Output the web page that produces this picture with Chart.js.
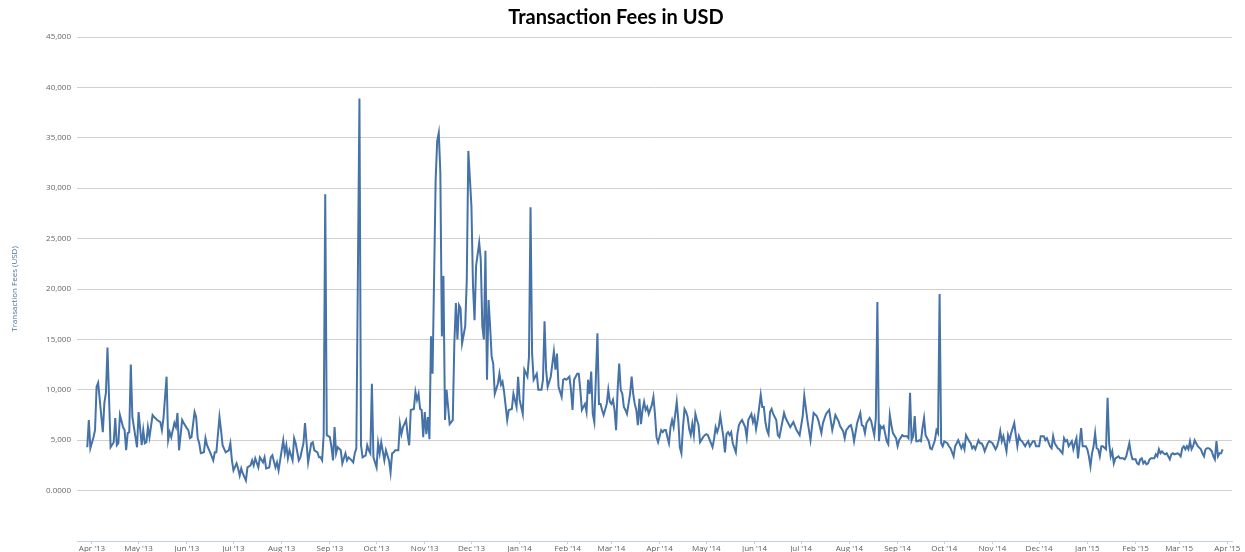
<!DOCTYPE html>
<html>
<head>
<meta charset="utf-8">
<title>Transaction Fees in USD</title>
<script src="https://cdn.jsdelivr.net/npm/chart.js@4.4.1/dist/chart.umd.min.js"></script>
<style>
  html, body { margin: 0; padding: 0; background: #fff; }
  #wrap { width: 1245px; height: 552px; }
</style>
</head>
<body>
<div id="wrap"><canvas id="feesChart"></canvas></div>
<script>
// days counted from 1 Apr 2013
const dayIndex = [
  -3,-2,-1,1,2,3,4,7,8,9,10,12,14,15,16,
  17,18,20,21,22,23,24,25,26,27,29,30,32,33,34,
  35,36,37,39,40,42,44,45,46,48,49,50,51,53,54,
  55,56,58,59,61,62,63,64,66,67,68,69,70,72,73,
  74,76,78,79,80,82,83,84,86,88,89,90,91,93,94,
  95,96,97,99,100,102,103,104,105,107,108,110,111,112,114,
  115,116,118,119,120,122,123,124,125,126,127,129,130,131,133,
  134,136,137,139,141,142,143,145,146,147,148,149,150,151,153,
  154,155,156,157,158,160,161,163,164,165,167,168,169,170,172,173,174,
  176,177,178,179,180,181,183,184,185,186,188,189,191,192,193,
  194,195,197,198,199,200,202,203,204,205,207,208,209,210,211,
  212,213,214,215,216,217,218,219,221,222,223,224,225,226,227,
  228,230,232,233,234,235,236,237,238,240,241,242,244,245,246,
  247,249,250,251,252,253,254,255,256,257,258,259,261,262,263,
  264,265,267,268,270,271,273,274,275,277,278,280,281,282,283,
  284,286,287,289,290,291,292,293,295,297,298,299,300,302,303,
  304,305,307,308,309,310,312,313,314,315,317,318,319,320,321,
  322,323,325,326,327,328,329,331,332,333,334,335,336,337,338,
  339,340,341,342,343,344,346,347,348,349,350,351,352,353,354,
  355,356,357,358,360,361,362,363,364,366,367,368,369,370,371,
  372,373,374,376,377,378,379,380,381,382,383,384,385,386,387,
  388,389,390,391,393,394,395,396,397,398,399,400,401,402,403,
  404,406,407,408,409,410,411,412,414,415,416,417,418,420,421,
  422,423,424,425,426,427,428,430,431,432,433,434,435,436,437,
  438,440,441,442,445,446,449,451,453,455,457,458,460,462,463,
  464,466,467,469,470,472,474,475,476,477,478,480,481,483,484,
  485,487,488,489,490,492,494,495,496,497,498,500,501,503,504,
  505,506,507,508,509,511,512,513,514,515,517,518,519,521,522,
  524,525,526,527,528,529,530,531,532,533,534,535,536,538,539,
  540,542,543,544,545,546,547,548,550,551,552,554,555,556,557,
  559,560,561,562,564,565,566,567,568,570,571,572,573,574,576,
  577,579,580,581,582,583,584,585,586,588,589,590,591,593,594,
  595,596,597,598,600,601,602,603,605,606,607,609,610,612,613,
  614,616,617,618,619,621,622,624,625,626,627,628,630,631,632,
  633,634,635,636,637,639,640,641,642,643,644,645,646,647,648,
  649,650,652,653,654,655,656,657,658,660,661,663,664,665,667,
  668,669,671,672,673,674,675,676,677,678,679,680,681,683,684,
  685,686,687,688,689,690,691,692,693,694,695,696,698,699,700,
  701,702,703,704,705,706,707,708,709,710,711,713,714,715,716,
  717,718,719,720,721,722,723,724,725,726,727
];

// fees in thousands of USD, same order as dayIndex
const feesK = [
  4.3,7.0,4.2,5.3,6.0,10.3,10.7,5.8,8.7,9.7,14.2,4.3,4.8,7.2,4.5,
  4.7,7.5,6.3,6.0,4.0,5.7,5.8,12.5,7.3,6.3,4.3,7.8,4.5,6.0,4.7,
  4.8,6.3,5.3,7.5,7.3,7.0,6.8,6.0,7.2,11.3,5.0,5.8,5.3,6.7,6.3,
  7.7,4.0,7.0,6.7,6.2,6.0,5.2,5.3,7.8,7.3,5.2,4.7,3.7,3.8,5.2,
  4.5,3.8,3.0,3.8,3.8,7.3,6.0,4.5,3.8,4.0,4.7,3.0,2.0,2.7,2.2,
  1.5,2.2,1.7,1.0,2.3,2.5,3.0,2.5,3.2,2.3,3.3,2.8,3.3,2.2,2.3,
  3.3,3.5,2.3,2.8,2.0,4.0,5.0,3.7,4.5,3.2,4.0,3.0,5.2,4.7,3.0,
  3.3,4.7,6.7,2.8,4.7,4.8,4.0,3.8,3.3,3.3,3.0,5.5,29.4,5.5,5.3,
  4.3,3.0,6.3,3.7,4.3,4.0,2.7,3.7,3.0,3.3,3.0,2.8,3.7,4.2,38.9,4.5,3.3,
  3.5,4.5,4.0,3.7,10.6,3.3,2.3,4.7,3.7,4.8,3.0,4.0,3.0,1.8,3.7,
  3.8,4.0,4.0,6.6,5.6,6.3,7.0,5.5,4.5,8.0,8.1,9.8,9.0,9.6,8.1,
  8.0,5.3,7.8,5.6,7.3,5.1,15.3,11.6,30.9,34.7,35.5,31.6,15.3,21.3,7.0,
  10.0,6.6,7.0,14.6,18.6,15.0,18.4,18.1,14.6,16.3,20.9,33.7,28.2,20.3,16.9,
  22.3,24.6,22.9,16.3,15.0,23.8,11.0,18.9,16.3,13.3,12.6,9.6,10.6,11.6,10.5,
  10.8,9.8,7.0,8.0,8.1,9.6,8.3,11.3,9.0,7.6,12.0,11.3,13.3,28.1,13.6,
  11.0,11.6,10.0,10.0,11.0,16.8,12.0,10.3,11.3,13.8,12.0,13.6,10.3,9.3,11.0,
  11.1,11.0,11.3,10.0,8.0,11.0,11.6,11.6,10.0,8.0,8.6,7.8,11.0,9.6,11.8,
  7.6,6.8,15.6,8.6,8.6,8.0,7.5,8.6,10.0,8.8,8.6,9.0,8.0,6.0,10.0,
  12.6,10.0,9.6,8.3,8.0,7.6,9.6,11.3,9.6,8.6,8.0,6.5,9.1,6.6,8.0,
  8.8,8.0,8.3,7.6,8.5,9.3,7.6,5.3,4.8,6.0,5.8,6.0,6.0,5.3,4.7,
  6.3,7.0,6.3,8.8,7.0,4.3,3.7,6.3,8.1,7.8,7.3,6.1,5.5,6.6,5.5,
  7.6,7.0,6.5,4.8,5.3,5.5,5.6,5.5,5.1,4.7,4.3,5.1,6.3,5.8,6.3,
  7.4,5.3,3.8,5.6,5.8,5.5,5.8,4.7,3.8,5.6,6.5,6.8,7.0,6.3,5.3,
  7.0,7.3,7.6,6.8,7.3,6.1,7.0,9.5,8.3,8.3,6.8,6.0,5.6,7.8,8.1,
  7.6,7.0,5.5,5.3,7.7,7.2,6.3,6.8,6.0,5.5,7.4,9.4,7.0,5.0,6.4,
  7.7,7.4,7.0,5.7,6.7,7.6,8.0,7.0,6.0,6.7,7.5,6.9,6.4,5.9,5.2,
  6.0,6.4,6.5,5.9,4.9,6.7,7.7,6.5,6.4,5.7,6.7,7.2,6.9,5.5,7.2,
  18.7,4.9,6.4,6.2,6.4,4.9,4.6,7.5,6.5,5.7,5.2,4.4,5.0,5.5,5.4,
  5.4,5.2,9.7,5.0,5.4,7.4,4.9,4.9,5.0,4.9,6.2,7.2,5.5,4.9,4.2,
  4.1,5.0,6.0,5.7,19.5,4.7,4.4,4.9,4.7,4.4,4.2,3.4,4.4,4.7,5.0,
  4.2,4.6,4.1,5.5,4.9,4.7,4.2,4.4,4.1,5.0,4.7,4.7,4.4,3.9,4.7,
  4.9,4.7,4.4,4.1,4.4,5.0,5.9,4.9,5.4,3.9,5.5,5.0,5.7,6.7,5.5,
  4.4,5.4,5.0,4.9,4.4,4.7,4.9,4.4,4.9,4.9,4.4,4.4,5.4,5.4,5.0,
  5.2,4.4,4.2,5.4,4.7,4.2,4.1,3.7,5.2,4.9,5.0,4.4,4.9,4.1,4.7,
  5.2,3.2,4.7,6.2,4.4,4.4,4.1,3.4,2.4,3.7,4.4,5.7,4.2,4.1,3.4,
  4.4,4.4,4.1,9.2,4.7,3.4,3.9,2.7,3.2,3.4,3.2,3.2,3.1,3.4,4.7,
  3.7,3.1,3.1,2.7,2.6,3.1,3.2,2.7,2.9,2.6,2.7,3.1,3.2,3.2,3.6,
  3.4,4.1,3.7,3.9,3.7,3.6,3.7,3.4,3.1,3.6,3.7,3.6,3.7,3.6,3.4,
  4.2,4.4,4.1,4.4,4.1,4.9,4.1,4.4,5.0,4.7,4.4,4.1,3.7,3.4,4.1,
  4.2,4.2,4.1,3.9,3.4,3.1,4.9,3.4,3.7,3.7,4.1
];

// month ticks on the x axis
const monthLabels = ["Apr '13","May '13","Jun '13","Jul '13","Aug '13","Sep '13","Oct '13","Nov '13","Dec '13",
  "Jan '14","Feb '14","Mar '14","Apr '14","May '14","Jun '14","Jul '14","Aug '14","Sep '14","Oct '14","Nov '14","Dec '14",
  "Jan '15","Feb '15","Mar '15","Apr '15"];
const monthDays = [0,30,61,91,122,153,183,214,244,275,306,334,365,395,426,456,487,518,548,579,609,640,671,699,730];

if (dayIndex.length !== feesK.length) {
  throw new Error('dayIndex ' + dayIndex.length + ' vs feesK ' + feesK.length);
}

const points = dayIndex.map((d, i) => ({ x: d, y: feesK[i] * 1000 }));

new Chart(document.getElementById('feesChart'), {
  type: 'line',
  data: {
    datasets: [{
      label: 'Transaction Fees (USD)',
      data: points,
      borderColor: '#4572a7',
      borderWidth: 2,
      pointRadius: 0,
      tension: 0,
      fill: false
    }]
  },
  options: {
    responsive: true,
    maintainAspectRatio: false,
    animation: false,
    layout: { padding: { top: 0, right: 13, bottom: 0, left: 0 } },
    plugins: {
      legend: { display: false },
      tooltip: { enabled: false },
      title: {
        display: true,
        text: 'Transaction Fees in USD',
        color: '#000',
        font: { family: 'Lato', size: 20, weight: 'bold' },
        padding: { top: 6, bottom: 7 }
      }
    },
    scales: {
      x: {
        type: 'linear',
        min: -9.6,
        max: 733,
        afterBuildTicks: s => { s.ticks = monthDays.map(v => ({ value: v })); },
        afterFit: s => { s.height = 11; },
        grid: { drawOnChartArea: false, drawTicks: true, tickLength: 3, color: '#c0d0e0' },
        border: { display: true, color: '#c0d0e0' },
        ticks: {
          autoSkip: false,
          maxRotation: 0,
          padding: 0,
          color: '#606060',
          font: { family: 'Open Sans', size: 8 },
          callback: (v, i) => monthLabels[i]
        }
      },
      y: {
        min: -5000,
        max: 45000,
        afterFit: s => { s.width = 77; },
        grid: { color: '#d0d0d0', drawTicks: false },
        border: { display: false },
        ticks: {
          stepSize: 5000,
          padding: 6,
          color: '#666',
          font: { family: 'Open Sans', size: 8 },
          callback: v => v < 0 ? '' : (v === 0 ? '0.0000' : v.toLocaleString('en-US'))
        },
        title: {
          display: true,
          text: 'Transaction Fees (USD)',
          color: '#4d759e',
          font: { family: 'Open Sans', size: 8 },
          padding: { top: 10, bottom: 0 }
        }
      }
    }
  }
});
</script>
</body>
</html>
